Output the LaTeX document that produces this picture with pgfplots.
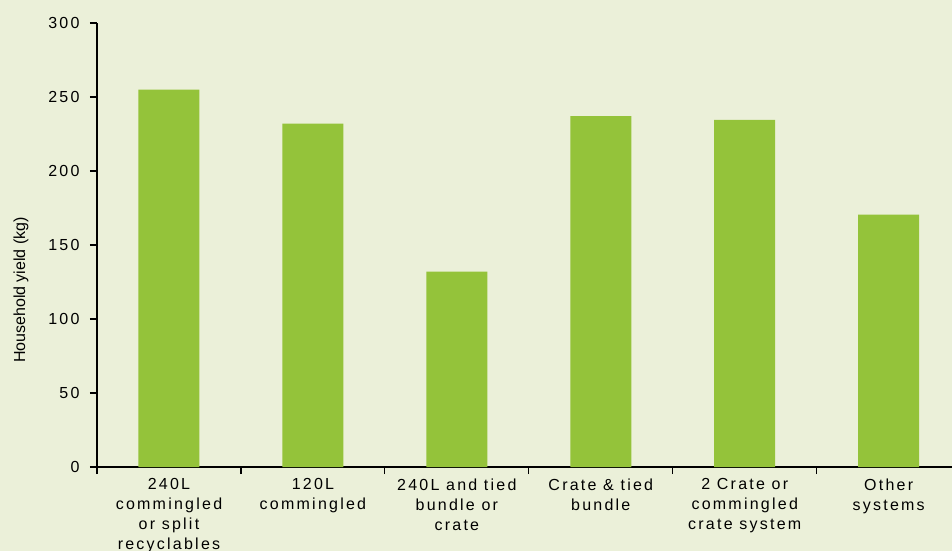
\documentclass[border=0pt]{standalone}
\usepackage{fontspec}
\setmainfont{Liberation Sans}
\newfontfamily\spaced{Liberation Sans}[LetterSpace=14]
\usepackage{pgfplots}
\pgfplotsset{compat=1.18}
\definecolor{bgc}{RGB}{235,240,217}
\definecolor{barc}{RGB}{148,195,58}
\begin{document}
\begin{tikzpicture}
\fill[bgc] (-97bp,-84bp) rectangle (855bp,467bp);
\path[use as bounding box] (-97bp,-84bp) rectangle (855bp,467bp);
\begin{axis}[
  at={(0,0)}, anchor=south west,
  scale only axis, width=855bp, height=444bp,
  ymin=0, ymax=300, ytick={0,50,...,300},
  xmin=-0.5, xmax=5.44,
  xtick={0,1,2,3,4,5},
  xticklabels={{240L\\commingled\\or split\\recyclables},{120L\\commingled},{240L and tied\\bundle or\\crate},{Crate \& tied\\bundle},{2 Crate or\\commingled\\crate system},{Other\\systems}},
  minor xtick={-0.5,0.5,1.5,2.5,3.5,4.5},
  axis x line*=bottom, axis y line*=left,
  axis line style={line width=1.2pt, -},
  tick align=outside,
  major tick length=7bp, minor tick length=7bp,
  every tick/.style={black, line width=1.2pt},
  every major x tick/.style={draw=none},
  /pgf/number format/assume math mode=true,
  tick label style={font=\spaced\fontsize{16bp}{20bp}\selectfont},
  x tick label style={align=center, anchor=north, yshift=-1bp},
  y tick label style={xshift=-7bp},
  ylabel={Household yield (kg)},
  y label style={font=\fontsize{16bp}{19bp}\selectfont, at={(axis description cs:-0.0889,0.3986)}, anchor=center},
  ybar, bar width=61bp,
]
\addplot[fill=barc, draw=none] coordinates {(0,255) (1,232) (2,132) (3,237) (4,234.5) (5,170.5)};
\end{axis}
\end{tikzpicture}
\end{document}
